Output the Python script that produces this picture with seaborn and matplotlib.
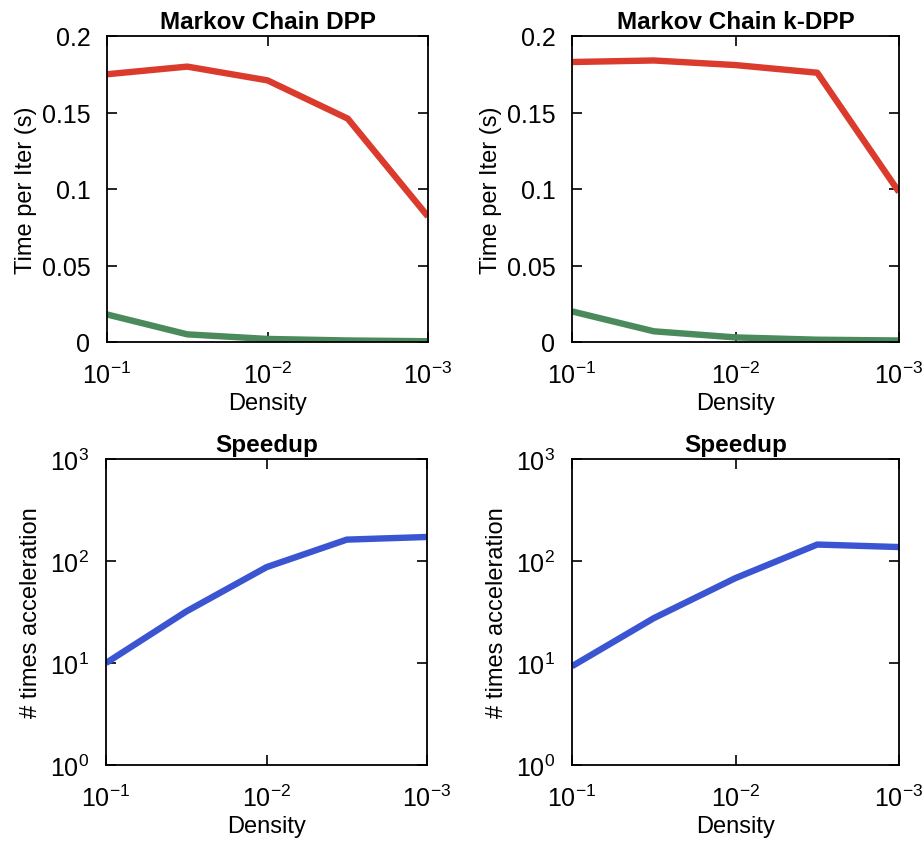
import numpy as np
import pandas as pd
import matplotlib
matplotlib.use("Agg")
import matplotlib.pyplot as plt
import seaborn as sns
from matplotlib.ticker import FixedLocator, NullLocator, LogFormatterMathtext

density = [1e-1, 10**-1.5, 1e-2, 10**-2.5, 1e-3]

dpp_exact = [0.175, 0.180, 0.171, 0.146, 0.082]
dpp_mc = [0.018, 0.005, 0.002, 0.001, 0.0005]
kdpp_exact = [0.183, 0.184, 0.181, 0.176, 0.098]
kdpp_mc = [0.020, 0.007, 0.003, 0.0015, 0.001]
speedup_dpp = [10, 32, 87, 162, 172]
speedup_kdpp = [9.3, 27.5, 68, 145, 137]

titles = ["Markov Chain DPP", "Markov Chain k-DPP", "Speedup", "Speedup"]

sns.set_style("ticks")
plt.rcParams['font.family'] = ['Liberation Sans', 'DejaVu Sans']
plt.rcParams['mathtext.fontset'] = 'custom'
plt.rcParams['mathtext.rm'] = 'Liberation Sans'
plt.rcParams['mathtext.it'] = 'Liberation Sans'
plt.rcParams['text.color'] = 'black'
plt.rcParams['axes.labelcolor'] = 'black'
plt.rcParams['axes.titlecolor'] = 'black'

RED = "#db3b2c"
GREEN = "#4b8a5c"
BLUE = "#3b55d2"
LW = 4.6

fig = plt.figure(figsize=(9.24, 8.45), dpi=100)
W, H = 924, 845
boxes = [(107, 37, 428, 343), (572, 37, 899, 343),
         (106, 460, 427, 766), (572, 460, 899, 766)]
axes = []
for (l, t, r, b) in boxes:
    axes.append(fig.add_axes([l / W, 1 - b / H, (r - l) / W, (b - t) / H]))

df_top = [
    pd.DataFrame({"Density": density * 2,
                  "Time": dpp_exact + dpp_mc,
                  "Method": ["exact"] * 5 + ["mc"] * 5}),
    pd.DataFrame({"Density": density * 2,
                  "Time": kdpp_exact + kdpp_mc,
                  "Method": ["exact"] * 5 + ["mc"] * 5}),
]
df_bot = [
    pd.DataFrame({"Density": density, "Speedup": speedup_dpp}),
    pd.DataFrame({"Density": density, "Speedup": speedup_kdpp}),
]

TICK_FS = 18
LABEL_FS = 17
TITLE_FS = 17.5

for i in range(2):
    ax = axes[i]
    sns.lineplot(data=df_top[i], x="Density", y="Time", hue="Method",
                 palette={"exact": RED, "mc": GREEN}, linewidth=LW,
                 legend=False, ax=ax, solid_capstyle="butt")
    ax.set_ylim(0, 0.2)
    ax.set_yticks([0, 0.05, 0.1, 0.15, 0.2])
    ax.set_yticklabels(["0", "0.05", "0.1", "0.15", "0.2"])
    ax.set_ylabel("Time per Iter (s)", fontsize=LABEL_FS, labelpad=3)

for i in range(2):
    ax = axes[2 + i]
    sns.lineplot(data=df_bot[i], x="Density", y="Speedup", color=BLUE,
                 linewidth=LW, ax=ax, solid_capstyle="butt")
    ax.set_yscale("log")
    ax.set_ylim(1, 1000)
    ax.yaxis.set_major_locator(FixedLocator([1, 10, 100, 1000]))
    ax.yaxis.set_minor_locator(NullLocator())
    ax.yaxis.set_major_formatter(LogFormatterMathtext())
    ax.set_ylabel("# times acceleration", fontsize=LABEL_FS, labelpad=6)

for ax, title in zip(axes, titles):
    ax.set_xscale("log")
    ax.set_xlim(1e-1, 1e-3)
    ax.xaxis.set_major_locator(FixedLocator([1e-1, 1e-2, 1e-3]))
    ax.xaxis.set_minor_locator(NullLocator())
    ax.xaxis.set_major_formatter(LogFormatterMathtext())
    ax.set_xlabel("Density", fontsize=LABEL_FS, labelpad=3)
    ax.set_title(title, fontsize=TITLE_FS, fontweight="bold", pad=6)
    ax.tick_params(direction="in", length=7, width=1.2, labelsize=TICK_FS,
                   top=True, right=True, colors="black")
    ax.tick_params(axis="x", pad=14)
    ax.tick_params(axis="y", pad=12)
    for s in ax.spines.values():
        s.set_visible(True)
        s.set_linewidth(1.3)
        s.set_color("black")
    ax.set_facecolor("white")

fig.savefig("out.png", dpi=100, facecolor="white")
